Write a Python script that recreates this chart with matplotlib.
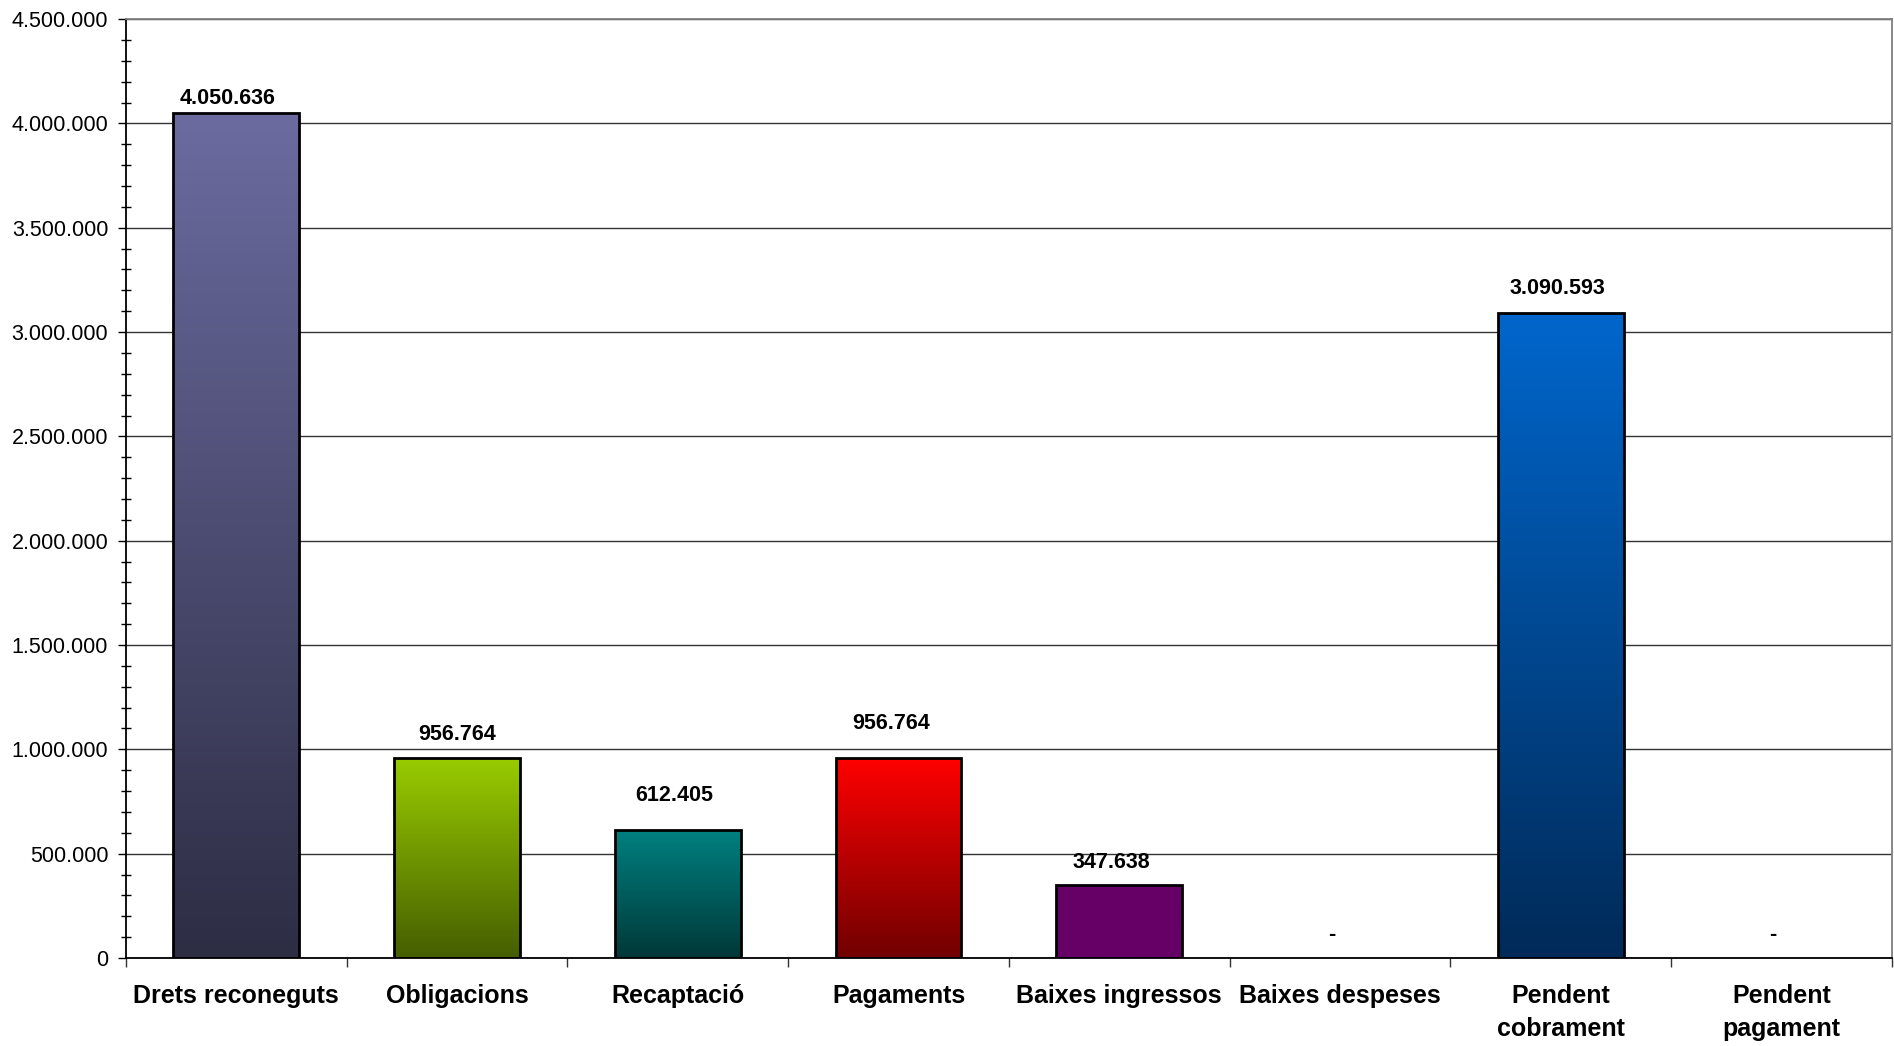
import numpy as np
import matplotlib.pyplot as plt
from matplotlib.colors import LinearSegmentedColormap
from matplotlib.ticker import MultipleLocator, FuncFormatter

plt.rcParams['font.family'] = ['Liberation Sans', 'DejaVu Sans']

# data
categories = ['Drets reconeguts', 'Obligacions', 'Recaptació', 'Pagaments',
              'Baixes ingressos', 'Baixes despeses', 'Pendent\ncobrament', 'Pendent\npagament']
values = [4050636, 956764, 612405, 956764, 347638, 0, 3090593, 0]

# gradient colours (top, bottom) for each bar
top_colors = ['#6B6BA0', '#99CC00', '#008080', '#FF0000', '#660066', '#FFFFFF', '#0066CC', '#FFFFFF']
bottom_colors = ['#2D2D44', '#455E00', '#003838', '#700000', '#660066', '#FFFFFF', '#002A58', '#FFFFFF']

# where each value label sits relative to its bar top (points)
label_dx = [-6, 0, -2.5, -5, -6, -6, -2.5, -6]
label_dy = [10.5, 17.5, 25, 25, 16.5, 17, 18, 17]


def fmt_thousands(v, pos=None):
    return '{:,.0f}'.format(v).replace(',', '.')


fig = plt.figure(figsize=(18.94, 10.46), dpi=100)
ax = fig.add_axes([0.0665, 0.0841, 0.9324, 0.8977])

x = np.arange(len(categories))
bars = ax.bar(x, values, width=0.57, facecolor='none', edgecolor='black',
              linewidth=2, zorder=3)

# gradient fill clipped to each bar
grad = np.linspace(0, 1, 256).reshape(-1, 1)
for bar, c_top, c_bot, v in zip(bars, top_colors, bottom_colors, values):
    if v == 0:
        bar.set_linewidth(0)
        continue
    bx, bw, bh = bar.get_x(), bar.get_width(), bar.get_height()
    cmap = LinearSegmentedColormap.from_list('g', [c_bot, c_top])
    im = ax.imshow(grad, cmap=cmap, extent=[bx, bx + bw, 0, bh], origin='lower',
                   aspect='auto', zorder=2, interpolation='bilinear')
    im.set_clip_path(bar)

# value labels
for xi, v, dx, dy in zip(x, values, label_dx, label_dy):
    txt = fmt_thousands(v) if v > 0 else '-'
    ax.annotate(txt, (xi, v), xytext=(dx, dy), textcoords='offset points',
                ha='center', va='center', fontsize=15.5, fontweight='bold', zorder=4)

ax.set_xlim(-0.5, len(categories) - 0.5)
ax.set_ylim(0, 4500000)

# y axis
ax.yaxis.set_major_locator(MultipleLocator(500000))
ax.yaxis.set_minor_locator(MultipleLocator(100000))
ax.yaxis.set_major_formatter(FuncFormatter(fmt_thousands))
ax.tick_params(axis='y', which='major', direction='out', length=5.8, width=1,
               labelsize=15.5, pad=7)
ax.tick_params(axis='y', which='minor', direction='inout', length=6.5, width=1)
ax.yaxis.grid(True, which='major', color='#333333', linewidth=1, zorder=0)
ax.set_axisbelow(True)

# x axis: labels at centers, ticks at category boundaries
ax.set_xticks(x)
ax.set_xticklabels(categories, fontsize=18, fontweight='bold', linespacing=1.45)
ax.set_xticks(np.arange(len(categories) + 1) - 0.5, minor=True)
ax.tick_params(axis='x', which='major', length=0, pad=19)
ax.tick_params(axis='x', which='minor', direction='out', length=6.5, width=1,
               color='#333333')

for side in ['left', 'bottom']:
    ax.spines[side].set_color('black')
    ax.spines[side].set_linewidth(1.3)
for side in ['top', 'right']:
    ax.spines[side].set_color('#808080')
    ax.spines[side].set_linewidth(1.3)

fig.savefig('out.png', dpi=100)
